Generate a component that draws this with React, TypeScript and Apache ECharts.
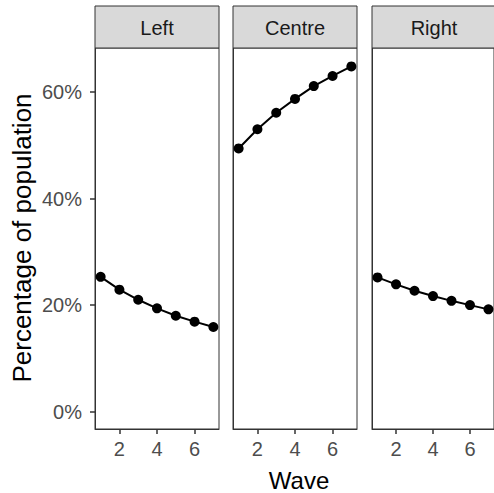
import React, { useEffect, useRef } from "react";
import * as echarts from "echarts";

const panels = ["Left", "Centre", "Right"];
const waves = [1, 2, 3, 4, 5, 6, 7];
const leftValues = [25.3, 22.9, 21.0, 19.4, 18.0, 16.9, 15.9];
const centreValues = [49.4, 53.0, 56.1, 58.7, 61.1, 63.0, 64.8];
const rightValues = [25.2, 23.9, 22.7, 21.7, 20.8, 20.0, 19.2];
const xTicks = [2, 4, 6];
const yTicks = [0, 20, 40, 60];

const FONT = "'Liberation Sans', Arial, Helvetica, sans-serif";

export default function App() {
  const ref = useRef<HTMLDivElement>(null);
  useEffect(() => {
    if (!ref.current) return;
    const chart = echarts.init(ref.current, undefined, { renderer: "svg" });
    const allValues = [leftValues, centreValues, rightValues];
    const lefts = [95, 233, 372];
    const width = 124;
    const top = 48;
    const height = 381;
    const stripTop = 6;

    const grids = lefts.map((l) => ({
      left: l,
      top,
      width,
      height,
      show: true,
      borderColor: "#333333",
      borderWidth: 1,
      backgroundColor: "#ffffff",
    }));

    const xAxes = lefts.map((_, i) => ({
      type: "value",
      gridIndex: i,
      min: 0.7,
      max: 7.3,
      position: "bottom",
      axisLine: { show: true, onZero: false, lineStyle: { color: "#333333", width: 1 } },
      splitLine: { show: false },
      axisTick: {
        show: true,
        length: 5,
        customValues: xTicks,
        lineStyle: { color: "#333333", width: 1.5 },
      },
      axisLabel: {
        show: true,
        customValues: xTicks,
        margin: 10,
        color: "#4d4d4d",
        fontSize: 20,
        fontFamily: FONT,
      },
    }));

    const yAxes = lefts.map((_, i) => ({
      type: "value",
      gridIndex: i,
      min: -3.25,
      max: 68.25,
      position: "left",
      axisLine: { show: true, onZero: false, lineStyle: { color: "#333333", width: 1 } },
      splitLine: { show: false },
      axisTick: {
        show: i === 0,
        length: 5,
        customValues: yTicks,
        lineStyle: { color: "#333333", width: 1.5 },
      },
      axisLabel: {
        show: i === 0,
        customValues: yTicks,
        margin: 13,
        color: "#4d4d4d",
        fontSize: 20,
        fontFamily: FONT,
        formatter: (v: number) => `${v}%`,
      },
    }));

    const series = allValues.map((vals, i) => ({
      type: "line",
      xAxisIndex: i,
      yAxisIndex: i,
      data: waves.map((w, j) => [w, vals[j]]),
      symbol: "circle",
      symbolSize: 10,
      lineStyle: { color: "#000000", width: 2 },
      itemStyle: { color: "#000000" },
      clip: false,
    }));

    const graphics: any[] = [];
    lefts.forEach((l, i) => {
      graphics.push({
        type: "rect",
        shape: { x: l, y: stripTop, width, height: top - stripTop },
        style: { fill: "#d9d9d9", stroke: "#333333", lineWidth: 1 },
        z: 10,
      });
      graphics.push({
        type: "text",
        x: l + width / 2,
        y: (stripTop + top) / 2 + 1,
        style: {
          text: panels[i],
          fill: "#1a1a1a",
          fontSize: 20,
          fontFamily: FONT,
          align: "center",
          verticalAlign: "middle",
        },
        z: 11,
      });
    });
    graphics.push({
      type: "text",
      x: 299,
      y: 480,
      style: {
        text: "Wave",
        fill: "#000000",
        fontSize: 24,
        fontFamily: FONT,
        align: "center",
        verticalAlign: "middle",
      },
    });
    graphics.push({
      type: "text",
      x: 22,
      y: 238,
      rotation: Math.PI / 2,
      style: {
        text: "Percentage of population",
        fill: "#000000",
        fontSize: 26,
        fontFamily: FONT,
        align: "center",
        verticalAlign: "middle",
      },
    });

    chart.setOption({
      animation: false,
      backgroundColor: "#ffffff",
      grid: grids,
      xAxis: xAxes,
      yAxis: yAxes,
      series,
      graphic: graphics,
    });
    return () => chart.dispose();
  }, []);
  return (
    <div
      ref={ref}
      style={{ position: "fixed", left: 0, top: 0, width: 494, height: 493 }}
    />
  );
}
